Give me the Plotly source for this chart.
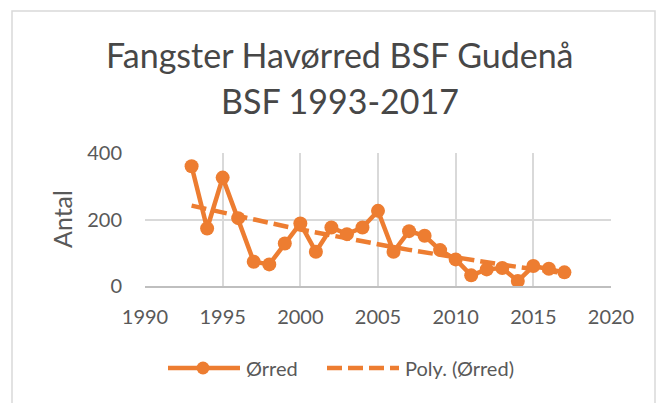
import numpy as np
import plotly.graph_objects as go

years = list(range(1993, 2018))
orred = [360, 173, 326, 204, 73, 65, 128, 188, 103, 176, 156, 176, 226,
         103, 165, 151, 108, 80, 32, 50, 54, 15, 60, 52, 41]
x_ticks = [1990, 1995, 2000, 2005, 2010, 2015, 2020]
y_ticks = [0, 200, 400]
title_lines = ["Fangster Havørred BSF Gudenå", "BSF 1993-2017"]
y_title = "Antal"
legend_names = ["Ørred", "Poly. (Ørred)"]

coef = np.polyfit(years, orred, 2)
trend = list(np.polyval(coef, years))

ORANGE = "#ED7D31"
GREY = "#595959"
FONT = "Lato"
DASH = "15px,6px"

# plot-area geometry (px) used to place layout decorations
L, R, T, B = 145, 611, 153, 286
W, H = 657, 403


def px(xp):
    return (xp - L) / (R - L)


def py(yp):
    return (B - yp) / (B - T)


fig = go.Figure()
fig.add_trace(go.Scatter(
    x=years, y=trend, mode="lines", name=legend_names[1],
    line=dict(color=ORANGE, width=4.5, dash=DASH), hoverinfo="skip"))
fig.add_trace(go.Scatter(
    x=years, y=orred, mode="lines+markers", name=legend_names[0],
    line=dict(color=ORANGE, width=4.5),
    marker=dict(color=ORANGE, size=14)))

ann = [
    dict(text=title_lines[0], x=px(340), y=py(54), xref="paper", yref="paper",
         xanchor="center", yanchor="middle", showarrow=False,
         font=dict(family=FONT, size=34, color="#474747")),
    dict(text=title_lines[1], x=px(340), y=py(100), xref="paper", yref="paper",
         xanchor="center", yanchor="middle", showarrow=False,
         font=dict(family=FONT, size=34, color="#474747")),
    dict(text=y_title, x=px(62), y=py(219), xref="paper", yref="paper",
         xanchor="center", yanchor="middle", showarrow=False, textangle=-90,
         font=dict(family=FONT, size=25, color=GREY)),
    dict(text=legend_names[0], x=px(244), y=py(368), xref="paper", yref="paper",
         xanchor="left", yanchor="middle", showarrow=False,
         font=dict(family=FONT, size=20, color=GREY)),
    dict(text=legend_names[1], x=px(403), y=py(368), xref="paper", yref="paper",
         xanchor="left", yanchor="middle", showarrow=False,
         font=dict(family=FONT, size=20, color=GREY)),
]

shapes = [
    dict(type="rect", xref="paper", yref="paper",
         x0=px(12), x1=px(655), y0=py(420), y1=py(11),
         line=dict(color="#D9D9D9", width=1.5), layer="below"),
    dict(type="line", xref="paper", yref="paper",
         x0=px(168), x1=px(240), y0=py(368), y1=py(368),
         line=dict(color=ORANGE, width=4.5)),
    dict(type="circle", xref="paper", yref="paper",
         xsizemode="pixel", ysizemode="pixel",
         xanchor=px(203), yanchor=py(368), x0=-6.5, x1=6.5, y0=-6.5, y1=6.5,
         fillcolor=ORANGE, line=dict(color=ORANGE, width=0)),
    dict(type="line", xref="paper", yref="paper",
         x0=px(327), x1=px(399), y0=py(368), y1=py(368),
         line=dict(color=ORANGE, width=4.5, dash=DASH)),
]

fig.update_layout(
    width=W, height=H,
    margin=dict(l=L, r=W - R, t=T, b=H - B),
    paper_bgcolor="white", plot_bgcolor="white",
    font=dict(family=FONT, color=GREY, size=20),
    showlegend=False,
    xaxis=dict(range=[1990, 2020], tickvals=x_ticks, showgrid=True,
               gridcolor="#D9D9D9", gridwidth=1.5, zeroline=False,
               showline=True, linecolor="#BFBFBF", linewidth=1.5,
               ticks="", tickfont=dict(size=20, color=GREY),
               ticklabelstandoff=12, automargin=False),
    yaxis=dict(range=[0, 400], tickvals=y_ticks, showgrid=True,
               gridcolor="#D9D9D9", gridwidth=1.5, zeroline=False,
               showline=False, ticks="", tickfont=dict(size=20, color=GREY),
               ticklabelstandoff=22, automargin=False),
    annotations=ann,
    shapes=shapes,
)

fig.write_html("out.html", config={"displayModeBar": False},
               post_script="document.body.style.margin='0';document.body.style.overflow='hidden';")
